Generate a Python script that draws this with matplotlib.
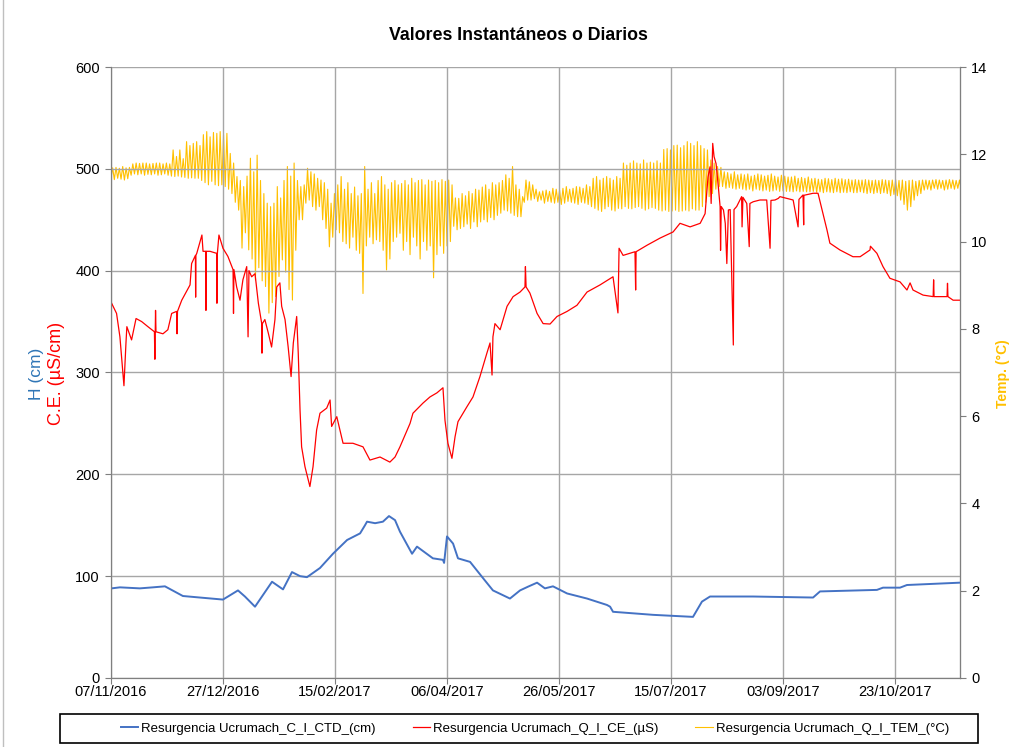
import numpy as np
import pandas as pd
import matplotlib
matplotlib.use("Agg")
import matplotlib.pyplot as plt
import matplotlib.dates as mdates
from matplotlib.patches import Rectangle

plt.rcParams['font.family'] = ['Liberation Sans', 'DejaVu Sans']

inicio = pd.Timestamp('2016-11-07')
fin_dias = 379.0

# nivel H (cm): dias desde 07/11/2016 y valor
h_dias = [0.3, 4.0, 12.9, 18.7, 24.1, 32.1, 39.7, 50.0, 56.7, 59.8, 64.3, 67.4, 71.9, 76.8,
          80.8, 84.4, 87.5, 93.3, 99.1, 105.4, 111.2, 113.4, 114.3, 117.9, 121.4, 124.1,
          126.8, 129.0, 134.4, 136.6, 143.7, 148.2, 148.7, 150.0, 152.7, 154.9, 160.3,
          166.1, 170.5, 178.1, 182.6, 186.2, 190.2, 193.7, 197.3, 203.6, 212.5, 221.4,
          222.8, 224.1, 242.0, 259.8, 263.8, 267.4, 286.6, 313.4, 316.5, 341.9, 344.6,
          352.2, 355.3, 379.0]
h_val = [88, 89, 88, 89, 90, 80.5, 79, 77, 86, 80, 70, 80, 94.5, 87,
         104, 100, 99, 108, 122, 135.5, 142, 150, 153.5, 152, 153.5, 159,
         155, 143.7, 122, 129, 117.5, 116, 113, 139, 132, 117.5, 114,
         98, 86, 78, 86, 89.7, 93.6, 88, 90, 83, 78, 71.7,
         70, 65, 62, 60, 75, 80, 80, 79, 85, 86.5, 88.7,
         88.7, 91.3, 93.6]

# conductividad C.E. (uS/cm)
ce_dias = [0.3, 2.5, 4.0, 5.8, 6.7, 7.1, 9.2, 11.2, 13.7, 16.5, 19.4, 19.6, 19.9, 20.1,
           23.2, 25.4, 27.1, 29.3, 29.5, 29.7, 31.6, 35.3, 36.0, 37.7, 37.8, 37.9, 38.3,
           40.6, 41.1, 42.3, 42.4, 42.5, 44.2, 47.2, 47.3, 47.5, 48.2, 50.0, 52.2, 54.5,
           54.7, 54.9, 56.1, 57.6, 58.9, 60.6, 61.2, 61.6, 62.8, 64.3, 65.8, 67.3, 67.4,
           67.6, 68.7, 70.2, 71.7, 73.2, 74.0, 75.4, 76.2, 77.7, 79.1, 80.4, 81.4, 82.9,
           83.6, 84.4, 85.1, 86.6, 88.8, 90.2, 91.8, 93.3, 96.3, 97.8, 98.5, 100.8, 103.6,
           108.0, 112.5, 115.6, 120.1, 124.5, 126.8, 129.0, 133.5, 134.8, 139.3, 142.4,
           145.5, 148.2, 149.1, 150.4, 152.2, 153.6, 154.9, 158.9, 161.6, 164.7, 167.8,
           169.2, 170.1, 170.5, 171.4, 173.7, 176.8, 179.5, 182.6, 184.8, 185.0, 185.3,
           187.0, 190.2, 192.9, 196.0, 199.1, 203.6, 208.0, 212.5, 218.3, 224.1, 226.3,
           226.8, 228.6, 233.9, 234.2, 234.4, 239.3, 245.1, 250.9, 254.0, 258.5, 263.0,
           265.2, 266.5, 267.4, 267.9, 268.6, 269.2, 270.1, 271.1, 271.9, 272.1, 272.4,
           273.4, 274.2, 274.9, 275.6, 276.4, 277.8, 278.1, 279.3, 281.5, 281.7, 282.1,
           283.8, 284.9, 285.2, 286.7, 289.7, 292.7, 294.2, 294.6, 296.4, 297.9, 298.6,
           304.5, 306.7, 307.1, 308.9, 309.2, 309.3, 313.4, 315.6, 317.8, 319.6, 320.9,
           325.4, 331.2, 334.4, 338.8, 339.0, 341.9, 344.6, 347.7, 352.2, 355.3, 356.7,
           358.0, 362.5, 367.0, 367.2, 367.4, 373.2, 373.4, 373.6, 375.9, 379.0]
ce_val = [368, 358, 335, 287, 329, 345, 332, 353, 350, 345, 340, 313, 361, 340,
          338, 342, 358, 360, 338, 360, 371, 386, 407, 415, 374, 415, 417,
          435, 419, 419, 361, 419, 419, 417, 368, 417, 435, 422, 414, 401,
          358, 401, 384, 371, 391, 404, 335, 400, 394, 397, 368, 348, 319,
          348, 352, 339, 325, 352, 384, 388, 365, 352, 325, 296, 329, 355,
          319, 263, 227, 207.5, 188, 207.5, 243.5, 260, 265, 273, 247, 256.6, 230.5,
          230.5, 227, 214, 217, 212, 217, 227, 250, 260, 270, 276,
          280, 285, 253, 230.5, 215.7, 237, 251.7, 266.4, 276, 296, 319,
          329, 297.5, 335, 348, 342, 365, 374.5, 379, 384, 404, 384,
          378, 358, 348, 347.6, 355, 360, 366, 379, 386, 394, 358.5,
          422, 415, 418.6, 381, 418.6, 425, 432, 438, 446.5, 443, 446.5,
          456, 492, 502, 466, 525, 512, 505, 482.5, 463, 420, 463,
          459.6, 446.5, 407, 459.6, 460, 327, 460, 463, 472.7, 443, 472,
          466, 423.6, 466, 467.7, 469.4, 469.4, 422, 469, 469.4, 471, 472.7,
          469.4, 443, 470, 474.3, 445, 474, 476, 476, 456, 440, 427,
          420.3, 413.7, 413.7, 420.3, 424, 417, 404, 392.5, 389, 381, 388,
          381, 376, 374.5, 391, 374.5, 374.5, 387.6, 374.5, 371, 371]

# temperatura (C): minimo y maximo de cada ciclo, un ciclo cada 1.5 dias
tem_ciclo = 1.5
tem_max = [
    11.69, 11.70, 11.68, 11.72, 11.69, 11.70, 11.78, 11.80, 11.79, 11.80, 11.80, 11.78, 11.79, 11.80, 11.80, 11.78, 11.80, 11.78,
    12.10, 11.95, 12.10, 11.90,
    12.29, 12.20, 12.25, 12.29, 12.20,
    12.45, 12.52, 12.40, 12.50, 12.48, 12.52, 12.45, 12.48,
    12.02, 11.80, 11.49, 11.40,
    11.26, 11.50, 11.91, 11.60, 11.98, 11.40, 11.10, 10.88, 10.80, 10.88, 11.26, 11.00, 11.40, 11.72, 11.50, 11.80, 11.40, 11.26,
    11.30, 11.68, 11.60, 11.55, 11.45, 11.41, 11.35, 11.20, 10.88, 11.10, 11.30, 11.49, 11.20, 11.35, 11.10,
    11.25, 11.05, 11.10, 11.72, 11.20, 11.35, 11.10, 11.40, 11.49, 11.30, 11.20, 11.35, 11.40, 11.30, 11.33,
    11.40, 11.30, 11.45, 11.35, 11.40, 11.42, 11.30, 11.41, 11.38, 11.40, 11.35, 11.42, 11.38, 11.41, 11.30,
    11.00, 10.99, 11.10, 11.05, 11.15, 11.10, 11.20, 11.18, 11.25, 11.30, 11.20, 11.35, 11.30, 11.35, 11.40, 11.53, 11.45,
    11.72, 11.30, 11.20, 11.03,
    11.41, 11.37, 11.30, 11.20, 11.14, 11.16, 11.18, 11.15, 11.22, 11.20, 11.18, 11.22, 11.26, 11.20, 11.22, 11.26, 11.25,
    11.22, 11.30, 11.26,
    11.45, 11.49, 11.41, 11.45, 11.49, 11.45, 11.41, 11.49, 11.45,
    11.80, 11.75, 11.80, 11.85, 11.80, 11.78, 11.87, 11.80, 11.82, 11.80, 11.85, 11.80,
    12.11, 12.13, 12.10, 12.20, 12.21, 12.15, 12.20, 12.29, 12.25, 12.20, 12.29, 12.20, 12.13, 12.10,
    11.87, 11.80, 11.72, 11.70,
    11.60, 11.58, 11.55, 11.60, 11.53, 11.55, 11.53, 11.55, 11.50, 11.52, 11.55, 11.53, 11.50, 11.52, 11.55, 11.50, 11.48,
    11.52, 11.50, 11.48,
    11.48, 11.50, 11.45, 11.47, 11.45, 11.48, 11.44, 11.45, 11.43, 11.42, 11.45, 11.44, 11.42, 11.45, 11.43, 11.44, 11.42,
    11.43, 11.41, 11.42,
    11.41, 11.41, 11.42, 11.41, 11.40, 11.41, 11.40, 11.42, 11.41, 11.40, 11.41, 11.42, 11.40, 11.41,
    11.38, 11.40, 11.41, 11.38, 11.40, 11.41,
    11.41, 11.40, 11.41, 11.42, 11.41, 11.40, 11.41, 11.42, 11.41, 11.40, 11.41, 11.42,
]
tem_min = [
    11.45, 11.42, 11.45, 11.43, 11.41, 11.44, 11.52, 11.55, 11.53, 11.55, 11.52, 11.54, 11.53, 11.55, 11.52, 11.53, 11.55, 11.52,
    11.50, 11.49, 11.50, 11.48,
    11.47, 11.45, 11.46, 11.45, 11.45,
    11.40, 11.35, 11.30, 11.38, 11.30, 11.28, 11.30, 11.26,
    11.20, 11.10, 10.90, 10.72,
    9.85, 10.20, 9.81, 9.60, 9.12, 9.40, 9.10, 8.97, 8.36, 8.60, 8.74, 9.20, 9.58, 9.30, 8.90, 8.66, 9.80, 10.50,
    10.50, 10.88, 10.95, 10.80, 10.72, 10.80, 10.50, 10.30, 9.88, 10.10, 10.27, 10.20, 10.00, 9.95, 9.85,
    10.10, 9.80, 9.73, 8.81, 9.90, 10.10, 9.95, 10.04, 10.00, 9.80, 9.35, 9.60, 10.00, 10.10, 10.19,
    9.80, 10.00, 9.70, 10.10, 9.90, 9.60, 10.00, 9.80, 9.90, 9.17, 9.70, 9.90, 9.73, 9.90, 10.00,
    10.35, 10.27, 10.30, 10.34, 10.40, 10.30, 10.45, 10.34, 10.45, 10.50, 10.45, 10.55, 10.50, 10.60, 10.65, 10.72, 10.70,
    10.65, 10.60, 10.57, 10.57,
    10.90, 10.95, 10.95, 10.98, 10.92, 10.95, 10.88, 10.92, 10.90, 10.88, 10.90, 10.85, 10.88, 10.92, 10.90, 10.88, 10.85,
    10.90, 10.88, 10.85,
    10.80, 10.76, 10.72, 10.69, 10.75, 10.80, 10.72, 10.70, 10.76,
    10.75, 10.80, 10.76, 10.75, 10.78, 10.80, 10.76, 10.72, 10.75, 10.78, 10.76, 10.72,
    10.70, 10.72, 10.69, 10.70, 10.72, 10.69, 10.70, 10.72, 10.70, 10.75, 10.72, 10.72, 10.80, 10.90,
    11.03, 11.10, 11.20, 11.26,
    11.26, 11.22, 11.24, 11.22, 11.20, 11.22, 11.20, 11.18, 11.20, 11.16, 11.20, 11.18, 11.16, 11.18, 11.15, 11.16, 11.18,
    11.15, 11.16, 11.15,
    11.15, 11.14, 11.16, 11.14, 11.15, 11.14, 11.14, 11.15, 11.13, 11.14, 11.12, 11.14, 11.13, 11.12, 11.14, 11.12, 11.13,
    11.12, 11.14, 11.12,
    11.12, 11.14, 11.12, 11.10, 11.12, 11.10, 11.12, 11.10, 11.12, 11.10, 11.05, 11.08, 11.05, 10.95,
    10.85, 10.72, 10.80, 10.95, 11.05, 11.10,
    11.18, 11.20, 11.18, 11.22, 11.20, 11.22, 11.18, 11.20, 11.22, 11.20, 11.22, 11.20,
]

etiquetas = ['Resurgencia Ucrumach_C_I_CTD_(cm)',
             'Resurgencia Ucrumach_Q_I_CE_(µS)',
             'Resurgencia Ucrumach_Q_I_TEM_(°C)']
colores = ['#4472C4', '#FF0000', '#FFC000']


def a_fecha(dias):
    return inicio + pd.to_timedelta(np.asarray(dias, dtype=float), unit='D')


fig = plt.figure(figsize=(10.17, 7.47), dpi=100)
ax = fig.add_axes([0.1091, 0.0924, 0.8349, 0.8179])
ax2 = ax.twinx()
ax.set_zorder(ax2.get_zorder() + 1)
ax.patch.set_visible(False)

# cada ciclo: minimo y luego maximo, medio ciclo entre lecturas
tem_serie = np.column_stack([tem_min, tem_max]).ravel()
tem_dias = np.arange(len(tem_serie)) * tem_ciclo / 2
l3, = ax2.plot(a_fecha(tem_dias), tem_serie, color=colores[2], lw=0.8)
l1, = ax.plot(a_fecha(h_dias), h_val, color=colores[0], lw=1.4)
l2, = ax.plot(a_fecha(ce_dias), ce_val, color=colores[1], lw=0.9)

ax.set_xlim(inicio, inicio + pd.Timedelta(days=fin_dias))
ax.set_ylim(0, 600)
ax2.set_ylim(0, 14)
ax.set_yticks(range(0, 601, 100))
ax2.set_yticks(range(0, 15, 2))
ticks = pd.date_range(inicio, periods=8, freq='50D')
ax.set_xticks(ticks)
ax.xaxis.set_major_formatter(mdates.DateFormatter('%d/%m/%Y'))

ax.grid(True, color='#A6A6A6', lw=1)
for a in (ax, ax2):
    a.tick_params(labelsize=10.5, length=4, color='#7F7F7F', pad=4)
    for s in a.spines.values():
        s.set_color('#7F7F7F')
ax.tick_params(axis='x', pad=1)
ax2.spines['right'].set_color('black')
ax.spines['top'].set_visible(False)
ax2.spines['top'].set_visible(False)

fig.text(0.51, 0.952, 'Valores Instantáneos o Diarios', ha='center', va='center',
         fontsize=12.8, fontweight='bold')
fig.text(0.036, 0.50, 'H (cm)', rotation=90, ha='center', va='center',
         fontsize=12.5, color='#2E75B6')
fig.text(0.056, 0.50, 'C.E. (µS/cm)', rotation=90, ha='center', va='center',
         fontsize=13, color='#FF0000')
fig.text(0.986, 0.50, 'Temp. (°C)', rotation=90, ha='center', va='center',
         fontsize=10, color=colores[2], fontweight='bold')

fig.legend([l1, l2, l3], etiquetas, loc='center', bbox_to_anchor=(0.526, 0.0248),
           ncol=3, frameon=False, fontsize=9.5, handlelength=1.3, columnspacing=2.8,
           handletextpad=0.25)
fig.patches.append(Rectangle((0.059, 0.0054), 0.903, 0.0388, transform=fig.transFigure,
                             fill=False, edgecolor='black', lw=1.2))
fig.patches.append(Rectangle((0.003, -0.01), 1.2, 1.2, transform=fig.transFigure,
                             fill=False, edgecolor='#BFBFBF', lw=1))

fig.savefig('out.png', dpi=100)
